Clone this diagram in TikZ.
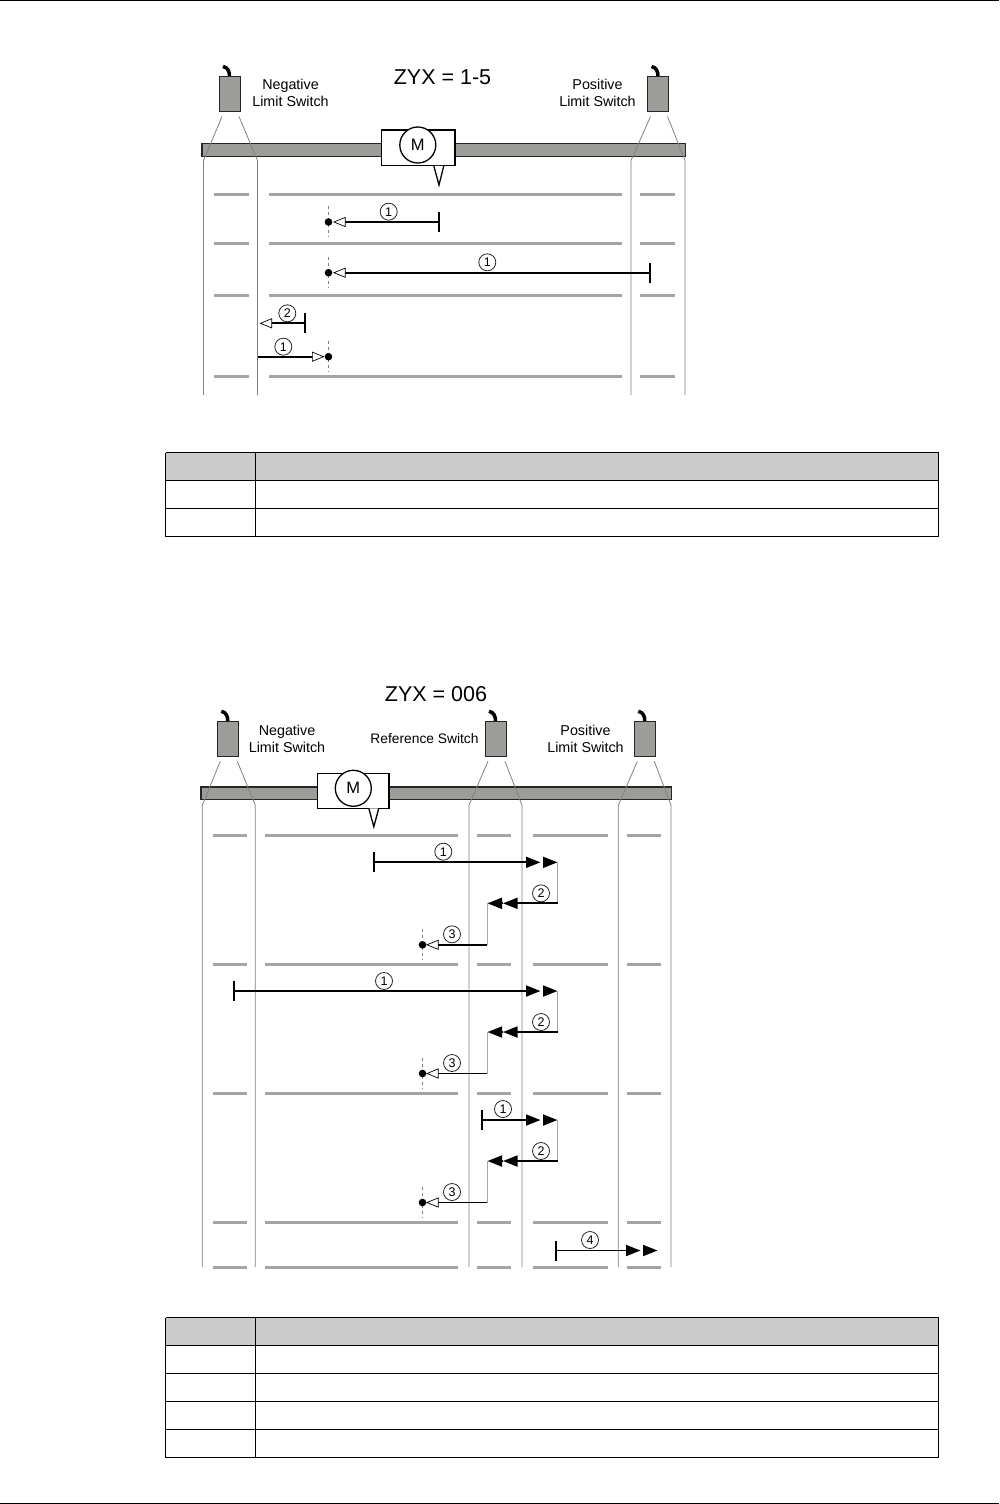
\documentclass[tikz,border=0pt]{standalone}
\usepackage{fontspec}
\setmainfont{Liberation Sans}
\usetikzlibrary{arrows.meta,calc,positioning}
\definecolor{railgray}{HTML}{9C9C98}
\definecolor{markgray}{HTML}{A4A4A4}
\definecolor{beamgray}{HTML}{808080}
\definecolor{headgray}{HTML}{CCCCCC}
\tikzset{
  sensor/.style={draw=black!85,fill=railgray,line width=1pt},
  beam/.style={draw=beamgray,line width=0.8pt},
  railmark/.style={draw=markgray,line width=3pt},
  motion/.style={draw=black,line width=1.8pt},
  stopbar/.style={draw=black,line width=1.8pt},
  turn/.style={draw=gray!70,line width=1pt},
  guide/.style={draw=gray,line width=0.6pt,dash pattern=on 3pt off 3pt},
  num/.style={circle,draw=black!85,line width=0.8pt,inner sep=0pt,minimum size=17pt,font=\fontsize{12.5}{12.5}\selectfont},
  caption/.style={align=center,font=\fontsize{14.3}{17}\selectfont,inner sep=0pt},
  heading/.style={font=\fontsize{21.5}{21.5}\selectfont,inner sep=0pt},
  motor/.style={font=\fontsize{16.5}{16.5}\selectfont,inner sep=0pt},
  table line/.style={draw=black,line width=1pt},
  hollow/.style={-{Triangle[open,fill=white,length=12.5pt,width=10pt,line width=0.7pt]}},
  solid tip/.style={-{Triangle[length=14.5pt,width=11pt]}}
}
% sensor at x (left edge) with its beam
\newcommand{\sensorat}[6]{%
  \draw[black,line width=3.5pt] (#1+4,#2-10) .. controls (#1+9,#2-9) and (#1+10.5,#2-5) .. (#1+10.5,#2);
  \filldraw[sensor] (#1,#2) rectangle (#1+21,#2+35);
  \draw[beam] (#1+3,#2+40) -- (#3,#2+84) -- (#3,#6);
  \draw[beam] (#1+20,#2+40) -- (#4,#2+84) -- (#4,#6);
}
% dot on its dashed line, with the hollow tip coming in
\newcommand{\target}[3]{%
  \draw[guide] (#1,#2-16) -- (#1,#2+15);
  \fill[black] (#1,#2) circle (3.8);
  \coordinate (#3) at (#1,#2);
}
\newcommand{\stopat}[2]{\draw[stopbar] (#1,#2-10) -- (#1,#2+10);}
% the three strokes of one run
\newcommand{\run}[3]{%
  \stopat{#1}{#2}
  \draw[motion] (#1,#2) -- (527,#2);
  \draw[motion,solid tip] (526,#2) -- (540.5,#2);
  \draw[motion,solid tip] (543,#2) -- (557.5,#2);
  \draw[turn] (557.5,#2) -- (557.5,#2+41);
  \draw[motion] (557.5,#2+41) -- (517,#2+41);
  \draw[motion,solid tip] (518,#2+41) -- (503,#2+41);
  \draw[motion,solid tip] (502.5,#2+41) -- (487.5,#2+41);
  \draw[turn] (487,#2+41) -- (487,#2+82.5);
  \target{422.5}{#2+82.5}{dot#3}
  \draw[motion] (487,#2+82.5) -- (437,#2+82.5);
  \draw[motion,hollow] (437.5,#2+82.5) -- (426,#2+82.5);
  \node[num] (two#3) at (541,#2+31) {2};
  \node[num] (three#3) at (452,#2+72) {3};
}
\begin{document}
\begin{tikzpicture}[x=1pt,y=-1pt]
  \useasboundingbox (0,0) rectangle (999,1504);
  % page rules
  \draw[line width=1pt] (0,0.5) -- (999,0.5);
  \draw[line width=1pt] (0,1503) -- (999,1503);
  % upper rail
  \filldraw[fill=railgray,draw=black!85,line width=1.5pt] (202,143.5) rectangle (685.5,156.5);
  \foreach \y in {194,243.5,295.5,376.5} {
    \draw[railmark] (214,\y) -- (249,\y);
    \draw[railmark] (269,\y) -- (622,\y);
    \draw[railmark] (640,\y) -- (675,\y);
  }
  \sensorat{219}{76.5}{203.5}{257.5}{}{395}
  \sensorat{647.5}{76.5}{631}{685}{}{395}
  % carriage
  \filldraw[fill=white,draw=black,line width=1.3pt] (381.8,130) rectangle (455,165.8);
  \draw[fill=white,draw=black,line width=1.3pt] (417.8,145) circle (18);
  \node[motor] (motorA) at (417.8,145) {M};
  \draw[fill=white,draw=black,line width=1.3pt] (433.8,165.8) -- (439,185) -- (443.8,165.8);
  % labels
  \node[heading] (titleA) at (442.5,77) {ZYX = 1-5};
  \node[caption] (negA) at (290.5,92.5) {Negative\\Limit Switch};
  \node[caption] (posA) at (597.5,92.5) {Positive\\Limit Switch};
  % upper moves
  \stopat{439}{222}
  \target{328.5}{222}{dotA}
  \draw[motion] (439,222) -- (345,222);
  \draw[motion,hollow] (345.5,222) -- (333,222);
  \node[num] (oneA) at (388.7,211.7) {1};
  \stopat{649.7}{272.7}
  \target{328.5}{272.7}{dotB}
  \draw[motion] (649.7,272.7) -- (345,272.7);
  \draw[motion,hollow] (345.5,272.7) -- (333,272.7);
  \node[num] (oneB) at (487.3,262.3) {1};
  \stopat{305}{323.3}
  \draw[motion] (305,323.3) -- (272,323.3);
  \draw[motion,hollow] (272.5,323.3) -- (259.5,323.3);
  \node[num] (twoC) at (287.3,313.3) {2};
  \target{328.5}{356.7}{dotD}
  \draw[motion] (258,356.7) -- (312,356.7);
  \draw[motion,hollow] (311.5,356.7) -- (324.5,356.7);
  \node[num] (oneD) at (283.3,346.7) {1};
  % upper table
  \fill[headgray] (165.5,452.5) rectangle (938.5,480.5);
  \foreach \y in {452.5,480.5,508.5,536.5} \draw[table line] (165.5,\y) -- (938.5,\y);
  \foreach \x in {165.5,255.5,938.5} \draw[table line] (\x,452.5) -- (\x,536.5);
  % lower rail
  \filldraw[fill=railgray,draw=black!85,line width=1.5pt] (200.8,787) rectangle (671.5,799.3);
  \foreach \y in {835.5,964,1093,1222,1267} {
    \draw[railmark] (212.7,\y) -- (246.7,\y);
    \draw[railmark] (264.7,\y) -- (458.3,\y);
    \draw[railmark] (477.3,\y) -- (511.3,\y);
    \draw[railmark] (532.7,\y) -- (608.3,\y);
    \draw[railmark] (627,\y) -- (660.7,\y);
  }
  \sensorat{217.3}{721.3}{202.3}{255.3}{}{1267}
  \sensorat{485}{721.3}{469}{522}{}{1267}
  \sensorat{634.3}{721.3}{618.3}{671}{}{1267}
  % carriage
  \filldraw[fill=white,draw=black,line width=1.3pt] (317.8,773.8) rectangle (389,808.3);
  \draw[fill=white,draw=black,line width=1.3pt] (353.3,788.3) circle (18);
  \node[motor] (motorB) at (353.3,788.3) {M};
  \draw[fill=white,draw=black,line width=1.3pt] (368.8,808.3) -- (373.8,826.7) -- (378.8,808.3);
  % labels
  \node[heading] (titleB) at (436,694) {ZYX = 006};
  \node[caption] (negB) at (287,739) {Negative\\Limit Switch};
  \node[caption,font=\fontsize{13.8}{17}\selectfont] (refB) at (424.5,739) {Reference Switch};
  \node[caption] (posB) at (585.5,739) {Positive\\Limit Switch};
  % lower moves
  \run{373.8}{862.3}{E}
  \node[num] (oneE) at (443.3,851.7) {1};
  \run{234}{991}{F}
  \node[num] (oneF) at (384,981) {1};
  \run{482}{1120}{G}
  \node[num] (oneG) at (503,1109) {1};
  \stopat{556}{1250.5}
  \draw[motion] (556,1250.5) -- (627,1250.5);
  \draw[motion,solid tip] (626,1250.5) -- (640.5,1250.5);
  \draw[motion,solid tip] (643,1250.5) -- (657.5,1250.5);
  \node[num] (fourH) at (590,1240) {4};
  % lower table
  \fill[headgray] (165.5,1317.5) rectangle (938.5,1345.5);
  \foreach \y in {1317.5,1345.5,1373.5,1401.5,1429.5,1457.5} \draw[table line] (165.5,\y) -- (938.5,\y);
  \foreach \x in {165.5,255.5,938.5} \draw[table line] (\x,1317.5) -- (\x,1457.5);
\end{tikzpicture}
\end{document}
